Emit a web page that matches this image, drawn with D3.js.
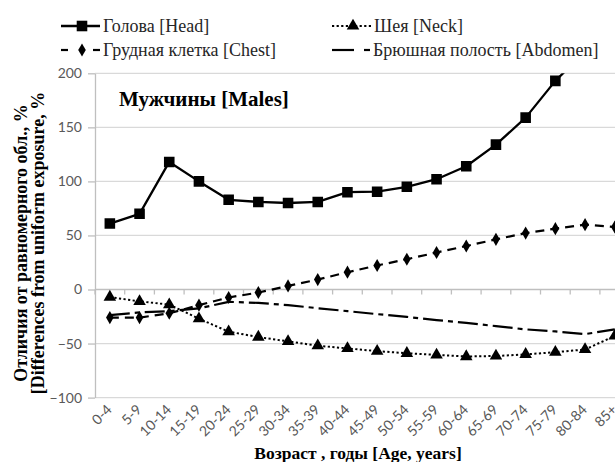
<!DOCTYPE html>
<html>
<head>
<meta charset="utf-8">
<script src="https://cdn.jsdelivr.net/npm/d3@7/dist/d3.min.js"></script>
<style>
  body { margin: 0; background: #fff; }
  svg { display: block; }
</style>
</head>
<body>
<svg id="chart" width="615" height="462"></svg>
<script>
// Age groups on the category axis
const ageGroups = ["0-4","5-9","10-14","15-19","20-24","25-29","30-34","35-39","40-44",
  "45-49","50-54","55-59","60-64","65-69","70-74","75-79","80-84","85+"];

// Differences from uniform exposure, % (males)
const headValues    = [61, 70, 118, 100, 83, 81, 80, 81, 90, 90.5, 95, 102, 114, 134, 159, 193, 220, 250];
const neckValues    = [-7, -11, -14, -27, -39, -44, -48, -52, -54.5, -57, -59, -60.5, -62, -61.5, -60, -58, -55.5, -43];
const chestValues   = [-26, -26, -22, -14.5, -7.4, -2.8, 3.3, 9.2, 16, 22.2, 28, 34.2, 40.2, 46.4, 52.2, 56.3, 60, 57.8];
const abdomenValues = [-23.7, -21.2, -20, -17.5, -11.4, -12.4, -14.5, -17.3, -20, -22.8, -25.3, -28.3, -30.8, -33.9, -36.9, -38.8, -41.3, -36.9];

const yTicks = [-100, -50, 0, 50, 100, 150, 200];

const seriesNames = {
  head: "Голова [Head]",
  neck: "Шея [Neck]",
  chest: "Грудная клетка [Chest]",
  abdomen: "Брюшная полость [Abdomen]"
};

const series = [
  { key: "head",    values: headValues,    dash: null,          width: 2.3, marker: "square" },
  { key: "neck",    values: neckValues,    dash: "2.2,2.4",     width: 2,   marker: "triangle" },
  { key: "chest",   values: chestValues,   dash: "9,6",         width: 2.2, marker: "diamond" },
  { key: "abdomen", values: abdomenValues, dash: "20,5,5,5",    width: 2.2, marker: null }
];

const svg = d3.select("#chart");
const plot = { left: 95, right: 629.6, top: 73.3, bottom: 397.6 };

const x = d3.scaleBand().domain(ageGroups).range([plot.left, plot.right]).padding(0);
const y = d3.scaleLinear().domain([-100, 200]).range([plot.bottom, plot.top]);
const cx = d => x(d) + x.bandwidth() / 2;

const sansFont = "Lato, 'Open Sans', sans-serif";
const serifFont = "'Liberation Serif', 'Times New Roman', serif";

// Horizontal gridlines
svg.append("g").selectAll("line")
  .data(yTicks.filter(t => t !== 0))
  .join("line")
  .attr("x1", plot.left).attr("x2", plot.right)
  .attr("y1", d => y(d)).attr("y2", d => y(d))
  .attr("stroke", "#d9d9d9").attr("stroke-width", 1.3);

// Value axis with outward ticks
const yAxis = svg.append("g")
  .attr("transform", `translate(${plot.left},0)`)
  .call(d3.axisLeft(y).tickValues(yTicks).tickSize(7).tickPadding(6).tickSizeOuter(0));
yAxis.select(".domain").attr("stroke", "#bfbfbf").attr("stroke-width", 1.3);
yAxis.selectAll(".tick line").attr("stroke", "#bfbfbf").attr("stroke-width", 1.3);
yAxis.selectAll(".tick text")
  .attr("font-family", sansFont).attr("font-size", 14).attr("fill", "#595959");

// Category axis crossing at zero, ticks on category boundaries
const zeroY = y(0);
svg.append("line")
  .attr("x1", plot.left).attr("x2", plot.right)
  .attr("y1", zeroY).attr("y2", zeroY)
  .attr("stroke", "#bfbfbf").attr("stroke-width", 1.3);
const boundaries = ageGroups.map(d => x(d)).concat([x(ageGroups[ageGroups.length - 1]) + x.bandwidth()]);
svg.append("g").selectAll("line")
  .data(boundaries)
  .join("line")
  .attr("x1", d => d).attr("x2", d => d)
  .attr("y1", zeroY).attr("y2", zeroY + 5)
  .attr("stroke", "#bfbfbf").attr("stroke-width", 1.3);

// Category labels along the bottom, rotated
svg.append("g").selectAll("text")
  .data(ageGroups)
  .join("text")
  .attr("transform", d => `translate(${cx(d) + 3},${plot.bottom + 13}) rotate(-45)`)
  .attr("text-anchor", "end")
  .attr("font-family", sansFont).attr("font-size", 14).attr("fill", "#595959")
  .text(d => d);

// Series lines and markers, clipped to the plot area
svg.append("clipPath").attr("id", "plot-clip")
  .append("rect")
  .attr("x", plot.left - 10).attr("y", plot.top)
  .attr("width", plot.right - plot.left + 20).attr("height", plot.bottom - plot.top + 10);

const plotG = svg.append("g").attr("clip-path", "url(#plot-clip)");
const line = d3.line().x((v, i) => cx(ageGroups[i])).y(v => y(v));

const symbolTypes = { square: d3.symbolSquare, triangle: d3.symbolTriangle, diamond: d3.symbolDiamond };
const symbolSizes = { square: 112, triangle: 68, diamond: 50 };

function drawMarker(g, type, px, py) {
  if (!type) return;
  g.append("path")
    .attr("d", d3.symbol().type(symbolTypes[type]).size(symbolSizes[type])())
    .attr("transform", `translate(${px},${py})`)
    .attr("fill", "#000");
}

// draw abdomen first, head last
["abdomen", "chest", "neck", "head"].forEach(k => {
  const s = series.find(d => d.key === k);
  plotG.append("path")
    .datum(s.values)
    .attr("d", line)
    .attr("fill", "none")
    .attr("stroke", "#000")
    .attr("stroke-width", s.width)
    .attr("stroke-dasharray", s.dash)
    .attr("stroke-linejoin", "round");
  const mg = plotG.append("g");
  s.values.forEach((v, i) => drawMarker(mg, s.marker, cx(ageGroups[i]), y(v)));
});

// Panel title
svg.append("text")
  .attr("x", 119).attr("y", 106)
  .attr("font-family", serifFont).attr("font-weight", "bold").attr("font-size", 21)
  .attr("fill", "#000")
  .text("Мужчины [Males]");

// Axis titles
svg.append("text")
  .attr("x", 358).attr("y", 459)
  .attr("text-anchor", "middle")
  .attr("font-family", serifFont).attr("font-weight", "bold").attr("font-size", 17.5)
  .attr("fill", "#000")
  .text("Возраст , годы [Age, years]");

const yTitle = svg.append("text")
  .attr("transform", `translate(27,243) rotate(-90)`)
  .attr("text-anchor", "middle")
  .attr("font-family", serifFont).attr("font-weight", "bold").attr("font-size", 18)
  .attr("fill", "#000");
yTitle.append("tspan").attr("x", 0).attr("dy", 0).text("Отличия от равномерного обл., %");
yTitle.append("tspan").attr("x", 0).attr("dy", 17).text("[Differences from uniform exposure, %");

// Legend
const legendItems = [
  { key: "head",    x: 61,  y: 26 },
  { key: "neck",    x: 332, y: 26 },
  { key: "chest",   x: 61,  y: 50 },
  { key: "abdomen", x: 332, y: 50 }
];
const legend = svg.append("g");
legendItems.forEach(it => {
  const s = series.find(d => d.key === it.key);
  const g = legend.append("g").attr("transform", `translate(${it.x},${it.y})`);
  if (it.key === "chest") {
    g.append("line").attr("x1", 0).attr("x2", 7).attr("stroke", "#000").attr("stroke-width", 2.2);
    g.append("line").attr("x1", 32).attr("x2", 39).attr("stroke", "#000").attr("stroke-width", 2.2);
  } else if (it.key === "abdomen") {
    g.append("line").attr("x1", 0).attr("x2", 22).attr("stroke", "#000").attr("stroke-width", 2.2);
    g.append("line").attr("x1", 32).attr("x2", 38).attr("stroke", "#000").attr("stroke-width", 2.2);
  } else {
    g.append("line").attr("x1", 0).attr("x2", 39)
      .attr("stroke", "#000").attr("stroke-width", s.width)
      .attr("stroke-dasharray", s.dash);
  }
  drawMarker(g, s.marker, 21, 0);
  g.append("text")
    .attr("x", it.key === "abdomen" ? 41 : 42).attr("y", 0).attr("dy", "0.35em")
    .attr("font-family", serifFont).attr("font-size", 18)
    .attr("fill", "#262626")
    .text(seriesNames[it.key]);
});
</script>
</body>
</html>
